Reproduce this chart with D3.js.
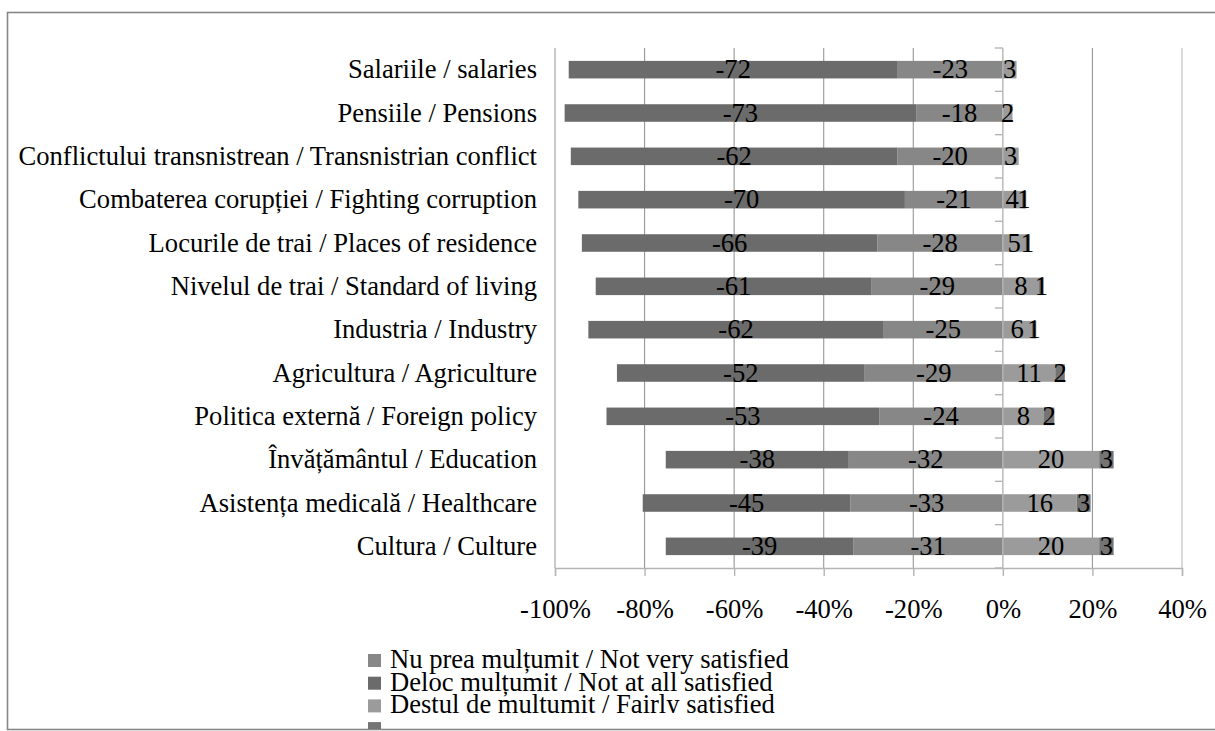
<!DOCTYPE html>
<html>
<head>
<meta charset="utf-8">
<script src="https://cdn.jsdelivr.net/npm/d3@7"></script>
<style>
  html, body { margin: 0; padding: 0; background: #fff; }
  svg { display: block; }
  svg text { font-family: "Liberation Serif", "Times New Roman", serif; }
</style>
</head>
<body>
<svg id="chart" width="1215" height="731"></svg>
<script>
// categorii (de sus în jos)
const categories = [
  "Salariile / salaries",
  "Pensiile / Pensions",
  "Conflictului transnistrean / Transnistrian conflict",
  "Combaterea corupției / Fighting corruption",
  "Locurile de trai / Places of residence",
  "Nivelul de trai / Standard of living",
  "Industria / Industry",
  "Agricultura / Agriculture",
  "Politica externă / Foreign policy",
  "Învățământul / Education",
  "Asistența medicală / Healthcare",
  "Cultura / Culture"
];
const nuPrea = [-23, -18, -20, -21, -28, -29, -25, -29, -24, -32, -33, -31];
const deloc  = [-72, -73, -62, -70, -66, -61, -62, -52, -53, -38, -45, -39];
const destul = [3, 2, 3, 4, 5, 8, 6, 11, 8, 20, 16, 20];
const foarte = [null, null, null, 1, 1, 1, 1, 2, 2, 3, 3, 3];

const seriesNames = [
  "Nu prea mulțumit / Not very satisfied",
  "Deloc mulțumit / Not at all satisfied",
  "Destul de mulțumit / Fairly satisfied",
  "Foarte mulțumit / Very satisfied"
];
const seriesKeys = ["nuPrea", "deloc", "destul", "foarte"];
const colors = ["#878787", "#6b6b6b", "#9b9b9b", "#747474"];
const xTicks = [-1, -0.8, -0.6, -0.4, -0.2, 0, 0.2, 0.4];

const svg = d3.select("#chart");
const FS = 26.6;
const plot = { left: 555, right: 1182, top: 48, bottom: 568 };

// rânduri normalizate (100% stacked, ca în Excel)
const rows = categories.map((c, i) => {
  const raw = { nuPrea: nuPrea[i], deloc: deloc[i], destul: destul[i], foarte: foarte[i] };
  const tot = seriesKeys.reduce((s, k) => s + Math.abs(raw[k] || 0), 0);
  const r = { cat: c, raw };
  seriesKeys.forEach((k) => (r[k] = (raw[k] || 0) / tot));
  return r;
});

const x = d3.scaleLinear().domain([-1, 0.4]).range([plot.left, plot.right]);
const y = d3.scaleBand().domain(categories).range([plot.top, plot.bottom]).paddingInner(0.595).paddingOuter(0.2975);
const yStep = y.step();

// chenar exterior
svg.append("rect").attr("x", 7.5).attr("y", 12.5).attr("width", 1220).attr("height", 717)
  .attr("fill", "#fff").attr("stroke", "#878787").attr("stroke-width", 1.6);

// grilă
svg.append("g").selectAll("line").data(xTicks.filter((t) => t !== 0)).join("line")
  .attr("x1", (d) => x(d)).attr("x2", (d) => x(d))
  .attr("y1", plot.top).attr("y2", plot.bottom)
  .attr("stroke", (d) => (d === -1 || d === 0.4 ? "#bdbdbd" : "#979797"))
  .attr("stroke-width", (d) => (d === -1 ? 1.6 : 1.1));

// bare
const stack = d3.stack().keys(seriesKeys).offset(d3.stackOffsetDiverging);
const layers = stack(rows);
layers.forEach((layer, li) => {
  const g = svg.append("g").attr("fill", colors[li]);
  g.selectAll("rect").data(layer.filter((d) => d.data.raw[layer.key] != null)).join("rect")
    .attr("x", (d) => x(Math.min(d[0], d[1])))
    .attr("width", (d) => Math.abs(x(d[1]) - x(d[0])))
    .attr("y", (d) => y(d.data.cat))
    .attr("height", y.bandwidth());
});

// axa verticală la 0
svg.append("line").attr("x1", x(0)).attr("x2", x(0)).attr("y1", plot.top).attr("y2", plot.bottom)
  .attr("stroke", "#b5b5b5").attr("stroke-width", 1.4);
svg.append("g").selectAll("line").data(d3.range(categories.length + 1)).join("line")
  .attr("x1", x(0) - 8).attr("x2", x(0))
  .attr("y1", (d) => plot.top + d * yStep).attr("y2", (d) => plot.top + d * yStep)
  .attr("stroke", "#b5b5b5").attr("stroke-width", 1.4);

// axa orizontală
const xAxis = d3.axisBottom(x).tickValues(xTicks).tickSize(8).tickPadding(0)
  .tickFormat((d) => d3.format(".0%")(d).replace("−", "-"));
const ax = svg.append("g").attr("transform", `translate(0,${plot.bottom})`).call(xAxis)
  .attr("font-family", "Liberation Serif, Times New Roman, serif").attr("font-size", FS);
ax.select(".domain").attr("stroke", "#b5b5b5").attr("stroke-width", 1.4);
ax.selectAll(".tick line").attr("stroke", "#b5b5b5").attr("stroke-width", 1.4);
ax.selectAll(".tick text").attr("fill", "#000").attr("dy", null).attr("y", 50);

// etichete categorii
svg.append("g").selectAll("text").data(categories).join("text")
  .attr("x", 537).attr("y", (d) => y(d) + y.bandwidth() / 2 + 8.8)
  .attr("text-anchor", "end").attr("font-size", FS).attr("fill", "#000")
  .text((d) => d);

// etichete valori
layers.forEach((layer) => {
  svg.append("g").selectAll("text").data(layer.filter((d) => d.data.raw[layer.key] != null)).join("text")
    .attr("x", (d) => x((d[0] + d[1]) / 2))
    .attr("y", (d) => y(d.data.cat) + y.bandwidth() / 2 + 8.8)
    .attr("text-anchor", "middle").attr("font-size", FS).attr("fill", "#000")
    .text((d) => d.data.raw[layer.key]);
});

// legenda
svg.append("clipPath").attr("id", "legclip").append("rect")
  .attr("x", 0).attr("y", 640).attr("width", 1215).attr("height", 73);
svg.append("clipPath").attr("id", "boxclip").append("rect")
  .attr("x", 0).attr("y", 0).attr("width", 1215).attr("height", 729);
const leg = svg.append("g").attr("clip-path", "url(#boxclip)");
const legStep = 22.7;
leg.selectAll("rect").data(seriesNames).join("rect")
  .attr("x", 368).attr("y", (d, i) => 654 + i * legStep)
  .attr("width", 13).attr("height", 13)
  .attr("fill", (d, i) => colors[i]);
svg.append("g").attr("clip-path", "url(#legclip)").selectAll("text").data(seriesNames.slice(0, 3)).join("text")
  .attr("x", 390).attr("y", (d, i) => 668 + i * legStep)
  .attr("font-size", FS).attr("fill", "#000")
  .text((d) => d);
</script>
</body>
</html>
